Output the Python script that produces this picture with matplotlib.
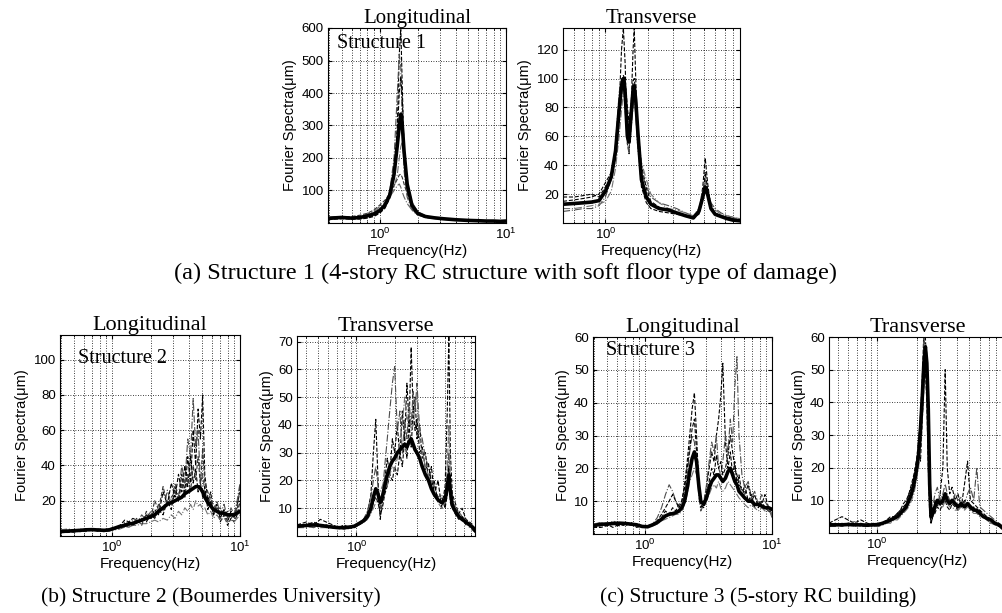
import numpy as np
import matplotlib
matplotlib.use('Agg')
import matplotlib.pyplot as plt
from matplotlib.ticker import FixedLocator, FuncFormatter, LogLocator, NullFormatter

plt.rcParams['font.family'] = ['Liberation Sans', 'DejaVu Sans']
plt.rcParams['mathtext.fontset'] = 'custom'
plt.rcParams['mathtext.rm'] = 'Liberation Sans'
plt.rcParams['mathtext.it'] = 'Liberation Sans:italic'
SERIF = ['Liberation Serif', 'DejaVu Serif']

# ---- (a) Structure 1, longitudinal ----
a1_f = [0.39, 0.45, 0.5, 0.6, 0.7, 0.8, 0.9, 1.0, 1.1, 1.2, 1.3, 1.38, 1.43, 1.47, 1.51,
        1.56, 1.65, 1.8, 2.0, 2.3, 2.7, 3.2, 4, 5, 6, 7, 8, 9, 10]
a1_mean = [14, 16, 17, 15, 17, 22, 28, 38, 55, 85, 150, 240, 300, 335, 300,
           220, 120, 55, 30, 20, 16, 13, 10, 8, 7, 6, 6, 5, 6]
a1_r1 = [12, 14, 15, 13, 12, 15, 20, 30, 45, 75, 140, 300, 520, 600, 420,
         220, 100, 45, 25, 17, 14, 11, 9, 7, 6, 5, 5, 4, 5]
a1_r2 = [18, 20, 19, 17, 16, 20, 26, 36, 55, 95, 200, 400, 520, 480, 300,
         160, 80, 40, 24, 18, 15, 12, 10, 8, 7, 6, 5, 5, 6]
a1_r3 = [10, 12, 13, 12, 14, 18, 22, 32, 48, 80, 150, 280, 400, 450, 380,
         240, 110, 50, 28, 19, 15, 12, 9, 7, 6, 5, 5, 4, 4]
a1_r4 = [16, 18, 18, 16, 18, 25, 35, 45, 60, 80, 110, 150, 200, 235, 250,
         210, 130, 65, 35, 22, 17, 14, 11, 9, 8, 7, 6, 6, 6]
a1_r5 = [15, 17, 18, 20, 24, 30, 40, 55, 70, 90, 115, 135, 148, 150, 140,
         120, 90, 55, 32, 22, 17, 14, 11, 9, 8, 7, 6, 5, 5]
a1_r6 = [12, 13, 14, 16, 20, 28, 38, 50, 62, 80, 100, 115, 120, 110, 95,
         80, 60, 40, 25, 18, 14, 12, 9, 8, 7, 6, 5, 5, 4]

# ---- (a) Structure 1, transverse ----
a2_f = [0.5, 0.6, 0.7, 0.8, 0.9, 1.0, 1.1, 1.18, 1.25, 1.3, 1.34, 1.38, 1.43, 1.47, 1.52,
        1.57, 1.6, 1.64, 1.7, 1.8, 1.95, 2.1, 2.4, 2.8, 3.2, 3.7, 4.2, 4.6, 4.9, 5.1,
        5.3, 5.6, 6.0, 6.6, 7.3, 8.0, 9.0]
a2_mean = [13, 13.5, 14, 14.5, 15.5, 22, 32, 50, 78, 95, 100, 90, 60, 56, 75,
           92, 95, 85, 62, 30, 18, 13, 10, 9, 7, 5, 3.5, 8, 18, 25,
           20, 10, 6, 4.5, 3, 2, 1.5]
a2_r1 = [18, 18, 19, 20, 18, 25, 30, 45, 80, 120, 135, 110, 55, 48, 80,
         120, 135, 100, 55, 25, 14, 10, 8, 7, 6, 5, 3, 7, 25, 45,
         28, 10, 6, 5, 4, 3, 2]
a2_r2 = [8, 9, 10, 10, 12, 18, 30, 55, 90, 100, 95, 78, 55, 50, 65,
         80, 88, 75, 50, 34, 26, 18, 14, 12, 10, 7, 5, 9, 20, 30,
         22, 14, 10, 7, 5, 4, 3]
a2_r3 = [15, 16, 17, 18, 20, 28, 35, 48, 70, 88, 102, 100, 80, 70, 82,
         98, 100, 90, 65, 40, 24, 15, 11, 9, 7, 5, 4, 6, 16, 35,
         24, 12, 7, 5, 4, 3, 2]
a2_r4 = [10, 10, 11, 12, 13, 15, 22, 38, 60, 78, 90, 85, 72, 60, 70,
         85, 90, 80, 60, 42, 30, 20, 14, 10, 9, 7, 5, 10, 22, 28,
         20, 13, 9, 6, 5, 4, 3]

# ---- (b) Structure 2, longitudinal ----
b1_f = [0.39, 0.45, 0.5, 0.56, 0.62, 0.7, 0.78, 0.86, 0.95, 1.05, 1.15, 1.25, 1.35, 1.45, 1.55,
        1.7, 1.85, 2.0, 2.15, 2.3, 2.5, 2.7, 2.9, 3.1, 3.3, 3.5, 3.7, 3.9, 4.1, 4.3,
        4.5, 4.7, 4.9, 5.1, 5.3, 5.6, 5.9, 6.2, 6.6, 7.0, 7.5, 8.0, 8.5, 9.0, 9.5, 10.0]
b1_mean = [2.5, 2.8, 3, 3.2, 3.5, 3.6, 3.4, 3.2, 3.5, 4.5, 5.5, 6, 7, 7, 8,
           9, 10, 11, 12, 14, 16, 18, 19, 20, 21, 22, 24, 25, 26, 27,
           28, 28, 27, 25, 22, 19, 17, 15, 14, 13, 13, 12, 12, 12, 13, 14]
b1_r1 = [2, 2.5, 3, 2.5, 3, 4, 3, 2.5, 3, 4, 5, 7, 6, 8, 7,
         10, 8, 12, 10, 15, 12, 20, 15, 28, 20, 35, 25, 45, 30, 60,
         40, 72, 55, 80, 35, 20, 25, 12, 18, 10, 15, 8, 14, 10, 18, 25]
b1_r2 = [3, 3.5, 3, 4, 3.5, 3, 4, 3.5, 4, 5, 4.5, 8, 6, 9, 7,
         12, 9, 14, 11, 18, 14, 26, 18, 30, 22, 40, 30, 55, 45, 78,
         50, 60, 30, 35, 25, 18, 22, 14, 20, 12, 18, 10, 16, 12, 20, 30]
b1_r3 = [2, 2, 2.5, 3, 3, 3.5, 3, 3, 3.5, 4, 6, 9, 8, 10, 9,
         8, 12, 10, 15, 12, 25, 18, 30, 22, 35, 25, 40, 28, 45, 30,
         38, 25, 30, 22, 28, 15, 20, 12, 16, 8, 12, 6, 10, 8, 12, 20]
b1_r4 = [3.5, 4, 3.5, 3, 4, 3, 3.5, 3, 3, 3.5, 4, 5, 5, 6, 6,
         7, 7, 8, 9, 8, 10, 9, 12, 10, 14, 12, 16, 14, 18, 15,
         20, 17, 18, 15, 16, 12, 14, 10, 12, 9, 10, 8, 9, 8, 10, 12]
b1_r5 = [2, 3, 2, 3, 2.5, 3.5, 2.5, 4, 3, 5, 4, 6, 5, 7, 10,
         6, 14, 10, 20, 15, 28, 18, 22, 25, 20, 30, 22, 35, 25, 40,
         32, 45, 28, 50, 30, 25, 20, 18, 15, 16, 12, 14, 10, 12, 15, 28]

# ---- (b) Structure 2, transverse ----
b2_f = [0.34, 0.4, 0.46, 0.52, 0.58, 0.65, 0.72, 0.8, 0.88, 0.96, 1.05, 1.14, 1.22, 1.3, 1.36,
        1.42, 1.48, 1.54, 1.6, 1.67, 1.75, 1.83, 1.92, 2.0, 2.1, 2.2, 2.3, 2.4, 2.5, 2.6,
        2.7, 2.8, 2.9, 3.0, 3.15, 3.3, 3.5, 3.7, 3.9, 4.1, 4.4, 4.7, 5.0, 5.2, 5.35,
        5.5, 5.7, 6.0, 6.4, 6.8, 7.3, 7.8, 8.3, 8.6]
b2_mean = [3.5, 3.8, 4, 3.8, 3.5, 3.2, 3, 3, 3.2, 3.5, 4.5, 5.5, 7, 10, 14,
           17, 15, 12, 14, 18, 22, 25, 27, 28, 30, 31, 32, 33, 32, 34,
           35, 33, 31, 30, 28, 25, 22, 20, 17, 15, 13, 12, 13, 18, 22,
           16, 11, 9, 7, 6, 5, 4, 3, 2]
b2_r1 = [4, 5, 4, 6, 5, 4, 3, 4, 3, 4, 4, 6, 8, 15, 30,
         42, 20, 6, 12, 20, 28, 22, 35, 30, 40, 28, 45, 35, 55, 40,
         68, 45, 50, 35, 40, 28, 30, 20, 25, 15, 20, 10, 18, 45, 72,
         30, 15, 12, 8, 10, 6, 5, 4, 2]
b2_r2 = [3, 3.5, 3, 4, 3, 3.5, 2.5, 3, 2.5, 3.5, 5, 6, 9, 14, 20,
         25, 18, 10, 15, 25, 35, 45, 55, 61, 38, 45, 30, 42, 35, 48,
         40, 52, 45, 55, 38, 35, 28, 25, 20, 18, 14, 15, 10, 20, 30,
         18, 14, 10, 9, 7, 6, 4, 3, 1.5]
b2_r3 = [4, 4, 5, 4, 4, 3, 3, 2.5, 3, 3, 4, 5, 6, 9, 12,
         14, 12, 8, 10, 15, 18, 22, 20, 25, 22, 30, 25, 35, 28, 40,
         32, 45, 38, 42, 30, 32, 24, 26, 18, 20, 12, 14, 10, 15, 25,
         12, 10, 8, 6, 7, 4, 4, 2, 1.5]
b2_r4 = [3, 3, 3.5, 3, 3, 3, 3, 3.5, 3.5, 4, 4.5, 5, 6, 8, 10,
         12, 14, 16, 18, 20, 18, 22, 25, 24, 28, 35, 40, 50, 42, 45,
         38, 40, 48, 50, 35, 30, 25, 22, 18, 15, 12, 10, 12, 25, 40,
         20, 12, 10, 8, 6, 5, 3, 2, 1.5]

# ---- (c) Structure 3, longitudinal ----
c1_f = [0.39, 0.45, 0.5, 0.56, 0.63, 0.7, 0.78, 0.86, 0.95, 1.05, 1.15, 1.25, 1.35, 1.45, 1.55,
        1.65, 1.75, 1.85, 1.95, 2.05, 2.15, 2.25, 2.35, 2.45, 2.55, 2.65, 2.75, 2.9, 3.05, 3.2,
        3.35, 3.5, 3.65, 3.8, 3.95, 4.1, 4.3, 4.5, 4.7, 4.9, 5.1, 5.3, 5.5, 5.8, 6.1,
        6.5, 6.9, 7.3, 7.8, 8.3, 8.8, 9.4, 10]
c1_mean = [2.5, 3, 3, 3.2, 3.3, 3.2, 3, 2.8, 2.3, 2.2, 2.8, 3.5, 4.5, 5.5, 6,
           6.2, 6.5, 7, 8, 10, 14, 19, 23, 25, 22, 15, 10, 9, 11, 14,
           16, 17, 18, 18, 17, 16, 17, 19, 20, 18, 16, 15, 13, 12, 11,
           10, 10, 9, 9, 8.5, 8, 8, 7.5]
c1_r1 = [2, 2.5, 3, 2, 3, 2.5, 3.5, 2, 2.5, 2, 3, 4, 5, 7, 6,
         8, 7, 9, 10, 15, 22, 30, 38, 43, 30, 15, 8, 10, 14, 20,
         25, 22, 30, 35, 42, 52, 28, 20, 25, 18, 22, 15, 18, 12, 15,
         10, 12, 8, 10, 9, 12, 8, 6]
c1_r2 = [3, 3.5, 2.5, 4, 3, 3.5, 2.5, 3, 2, 2.5, 3, 5, 8, 12, 15,
         13, 10, 8, 9, 12, 18, 25, 30, 28, 20, 12, 7, 9, 15, 22,
         28, 25, 30, 20, 18, 22, 30, 25, 35, 28, 45, 54, 30, 18, 14,
         16, 11, 13, 9, 12, 10, 8, 5]
c1_r3 = [2, 2, 2.5, 3, 2.5, 3, 3, 2.5, 2.5, 2.5, 3, 4, 6, 8, 10,
         12, 10, 8, 10, 14, 20, 26, 32, 35, 25, 14, 9, 8, 12, 16,
         20, 18, 24, 20, 22, 18, 20, 24, 30, 25, 20, 18, 15, 14, 12,
         15, 10, 12, 8, 10, 8, 7, 6]
c1_r4 = [3, 3, 3.5, 3.5, 3.5, 3.5, 3, 3, 2.5, 2, 2.5, 3, 4, 4.5, 5,
         5.5, 6, 6, 7, 9, 12, 16, 18, 20, 18, 14, 10, 9, 10, 12,
         14, 15, 14, 16, 14, 13, 14, 16, 15, 14, 13, 12, 11, 10, 9,
         8, 9, 8, 7, 8, 7, 7, 6]

# ---- (c) Structure 3, transverse ----
c2_f = [0.43, 0.48, 0.54, 0.6, 0.67, 0.75, 0.84, 0.93, 1.02, 1.1, 1.18, 1.26, 1.34, 1.42, 1.5,
        1.58, 1.66, 1.74, 1.82, 1.9, 1.98, 2.06, 2.13, 2.2, 2.26, 2.32, 2.38, 2.44, 2.5, 2.56,
        2.64, 2.74, 2.86, 3.0, 3.15, 3.28, 3.4, 3.55, 3.7, 3.9, 4.1, 4.35, 4.6, 4.85, 5.1,
        5.4, 5.7, 6.0, 6.4, 6.8, 7.3, 7.8, 8.4, 9.0, 9.5]
c2_mean = [2.5, 2.5, 2.5, 2.6, 2.5, 2.5, 2.4, 2.5, 2.6, 3, 3.5, 4, 4.5, 5, 6,
           7, 8, 10, 12, 15, 19, 24, 32, 42, 52, 57, 52, 38, 15, 5,
           6, 8, 10, 9, 10, 12, 10, 9, 10, 9, 8, 9, 8, 9, 8,
           7, 7, 6, 5, 4.5, 4, 3, 2.5, 1.5, 1]
c2_r1 = [3, 4, 5, 4, 3, 4, 3, 2.5, 3, 3, 4, 5, 5, 6, 7,
         9, 10, 12, 15, 18, 22, 28, 36, 48, 62, 60, 48, 30, 8, 3,
         5, 10, 8, 12, 20, 50, 20, 12, 14, 10, 12, 8, 15, 22, 10,
         9, 8, 7, 6, 5, 4, 3, 2, 1.5, 0.5]
c2_r2 = [2, 2, 3, 2, 2.5, 2, 2, 2, 2.5, 2.5, 3, 3.5, 4, 5, 5.5,
         6.5, 8, 9, 11, 14, 17, 25, 28, 40, 60, 55, 45, 25, 10, 4,
         8, 12, 14, 10, 12, 15, 12, 10, 9, 12, 10, 11, 9, 12, 14,
         10, 20, 8, 7, 6, 5, 4, 3, 2, 1]
c2_r3 = [2, 3, 2, 3, 2, 3, 2, 3, 2, 3, 3, 4, 5, 6, 7,
         8, 9, 12, 14, 17, 20, 25, 22, 35, 45, 50, 40, 20, 6, 3,
         5, 6, 8, 7, 9, 10, 8, 7, 9, 8, 7, 8, 10, 9, 7,
         8, 6, 7, 5, 4, 3, 3, 2, 1, 0.5]
c2_r4 = [3, 2.5, 2, 3, 3.5, 2.5, 2.5, 2, 2, 2.5, 3, 3, 4, 4, 5,
         6, 7, 8, 10, 12, 16, 20, 26, 35, 45, 58, 55, 42, 20, 6,
         5, 7, 9, 8, 8, 10, 9, 8, 8, 7, 7, 8, 7, 8, 7,
         6, 6, 5, 5, 4, 3, 2.5, 2, 1, 0.5]

W, H = 1003, 613
fig = plt.figure(figsize=(W / 100, H / 100), dpi=100)


def place(l, t, r, b):
    return fig.add_axes([l / W, 1 - b / H, (r - l) / W, (b - t) / H])


def draw(ax, f, mean, runs, xlim, ylim, yticks, title, tsize, tag=None, tag_xy=None):
    styles = ['--', '-.', '--', '-.', '--', '-.']
    greys = ['black', '0.3', 'black', '0.45', '0.2', '0.4']
    for i, r in enumerate(runs):
        ax.plot(f, r, ls=styles[i], color=greys[i], lw=0.8)
    ax.plot(f, mean, color='black', lw=2.6)
    ax.set_xscale('log')
    ax.set_xlim(xlim)
    ax.set_ylim(ylim)
    ax.set_yticks(yticks)
    ax.xaxis.set_major_locator(FixedLocator([1, 10]))
    ax.xaxis.set_major_formatter(FuncFormatter(lambda v, p: r'$10^{%d}$' % round(np.log10(v))))
    ax.xaxis.set_minor_locator(LogLocator(base=10, subs=range(2, 10)))
    ax.xaxis.set_minor_formatter(NullFormatter())
    ax.grid(True, which='both', axis='x', ls=(0, (1, 2)), color='black', lw=0.6)
    ax.grid(True, which='major', axis='y', ls=(0, (1, 2)), color='black', lw=0.6)
    ax.tick_params(direction='in', top=True, right=True, labelsize=9.5, length=3, pad=3)
    ax.tick_params(which='minor', direction='in', top=True, length=1.5)
    for s in ax.spines.values():
        s.set_linewidth(0.8)
    ax.set_xlabel('Frequency(Hz)', fontsize=11, labelpad=1)
    ax.set_ylabel('Fourier Spectra(μm)', fontsize=10.5, labelpad=3)
    ax.set_title(title, family=SERIF, fontsize=tsize, pad=2)
    if tag:
        ax.text(tag_xy[0], tag_xy[1], tag, transform=ax.transAxes, family=SERIF,
                fontsize=14.5, va='top', ha='left')


ax = place(328, 28, 506, 223)
draw(ax, a1_f, a1_mean, [a1_r1, a1_r2, a1_r3, a1_r4, a1_r5, a1_r6],
     (0.39, 10), (0, 600), [100, 200, 300, 400, 500, 600], 'Longitudinal', 15,
     'Structure 1', (0.05, 0.97))

ax = place(563, 28, 740, 223)
draw(ax, a2_f, a2_mean, [a2_r1, a2_r2, a2_r3, a2_r4],
     (0.5, 9), (0, 135), [20, 40, 60, 80, 100, 120], 'Transverse', 15)

ax = place(60, 335, 240, 536)
draw(ax, b1_f, b1_mean, [b1_r1, b1_r2, b1_r3, b1_r4, b1_r5],
     (0.39, 10), (0, 114), [20, 40, 60, 80, 100], 'Longitudinal', 16,
     'Structure 2', (0.1, 0.93))

ax = place(297, 336, 475, 536)
draw(ax, b2_f, b2_mean, [b2_r1, b2_r2, b2_r3, b2_r4],
     (0.34, 8.6), (0, 72), [10, 20, 30, 40, 50, 60, 70], 'Transverse', 16)

ax = place(593, 337, 772, 534)
draw(ax, c1_f, c1_mean, [c1_r1, c1_r2, c1_r3, c1_r4],
     (0.39, 10), (0, 60), [10, 20, 30, 40, 50, 60], 'Longitudinal', 16,
     'Structure 3', (0.07, 0.98))

ax = place(829, 337, 1006, 533)
draw(ax, c2_f, c2_mean, [c2_r1, c2_r2, c2_r3, c2_r4],
     (0.43, 9.5), (0, 60), [10, 20, 30, 40, 50, 60], 'Transverse', 16)

fig.text(506 / W, 1 - 273 / H, '(a) Structure 1 (4-story RC structure with soft floor type of damage)',
         family=SERIF, fontsize=17.5, ha='center', va='center')
fig.text(211 / W, 1 - 597 / H, '(b) Structure 2 (Boumerdes University)',
         family=SERIF, fontsize=15.5, ha='center', va='center')
fig.text(758 / W, 1 - 597 / H, '(c) Structure 3 (5-story RC building)',
         family=SERIF, fontsize=15.5, ha='center', va='center')

fig.savefig('out.png', dpi=100)
